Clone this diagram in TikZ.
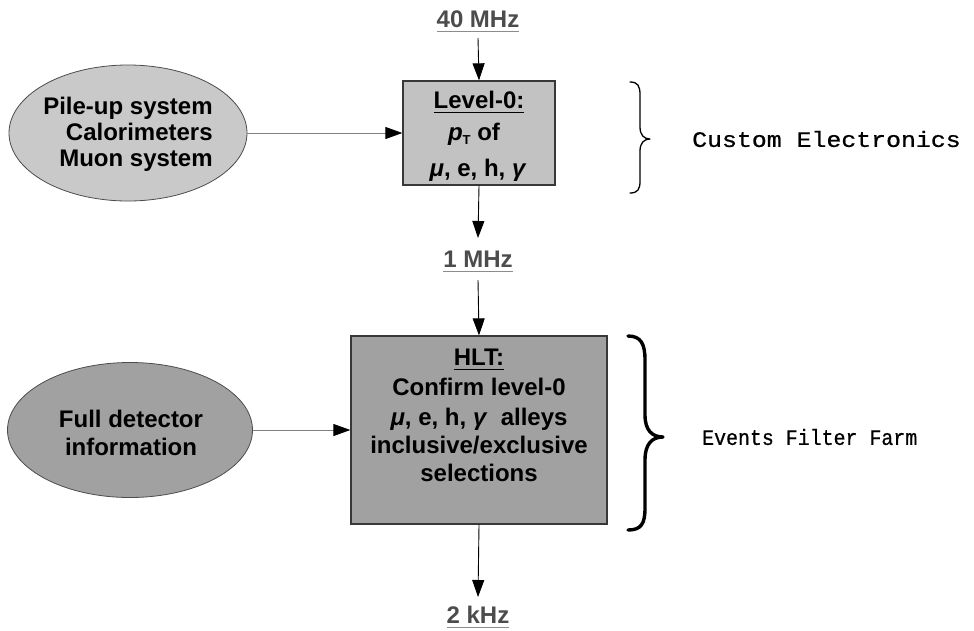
\documentclass[tikz,border=0pt]{standalone}
\usepackage{fontspec}
\setmainfont{Liberation Sans}
\newfontfamily\monof[FakeBold=0.7]{Liberation Mono}
\usetikzlibrary{arrows.meta,shapes.geometric}
\newcommand\myul[2][black]{\setbox0\hbox{#2}\leavevmode\rlap{\raisebox{-5pt}{\color{#1}\rule{\wd0}{1.3pt}}}\box0}
\begin{document}
\begin{tikzpicture}[x=1pt,y=-1pt,
  every node/.style={font=\bfseries\fontsize{24}{29}\selectfont},
  arr/.style={line width=0.9pt,-{Triangle[length=17pt,width=12pt]}},
  sidearr/.style={draw=black!50,line width=0.8pt,-{Triangle[length=17pt,width=12pt,color=black]}},
  freq/.style={inner sep=0pt,anchor=base,text=black!70},
  txt/.style={inner sep=0pt,anchor=base},
  boxstyle/.style={draw=black!78,line width=1.3pt,inner sep=0pt},
  ell/.style={ellipse,draw=black!70,line width=0.8pt,inner sep=0pt},
  mono/.style={inner sep=0pt,anchor=west,font=\monof\fontsize{22}{26}\selectfont},
  bracestyle/.style={draw=black,line cap=round,line join=round}
]
\useasboundingbox (0,0) rectangle (974,630);

% frequency labels
\node[freq] (f40) at (478,27) {\myul[black!45]{40 MHz}};
\node[freq] (f1) at (478,267) {\myul[black!45]{1 MHz}};
\node[freq] (f2) at (478,623) {\myul[black!45]{2 kHz}};

% Level-0 box
\node[boxstyle,fill=black!24,minimum width=152pt,minimum height=104pt] (l0) at (479,133) {};
\node[txt] (l0a) at (479,108) {\myul{Level-0:}};
\node[txt] (l0b) at (474,140) {\textit{p}\raisebox{-4pt}{\fontsize{13}{13}\selectfont T} of};
\node[txt] (l0c) at (478,176) {\textit{μ}, e, h, \textit{γ}};

% HLT box
\node[boxstyle,fill=black!37,minimum width=256pt,minimum height=188pt] (hlt) at (479,430) {};
\node[txt] (h1) at (479,365) {\myul{HLT:}};
\node[txt] (h2) at (479,395) {Confirm level-0};
\node[txt] (h3) at (479,425) {\textit{μ}, e, h, \textit{γ}\ \ alleys};
\node[txt] (h4) at (479,453) {inclusive/exclusive};
\node[txt] (h5) at (479,481) {selections};

% ellipses
\node[ell,fill=black!21,minimum width=238pt,minimum height=136pt] (e1) at (128,133) {};
\node[align=right,inner sep=0pt,font=\bfseries\fontsize{24}{26}\selectfont] (e1t) at (128,134) {Pile-up system\\Calorimeters\\Muon system};
\node[ell,fill=black!37,minimum width=245pt,minimum height=135pt] (e2) at (130,430) {};
\node[align=center,inner sep=0pt,font=\bfseries\fontsize{24}{28}\selectfont] (e2t) at (131,433) {Full detector\\information};

% connectors
\draw[arr] ([yshift=-11pt]f40.base) -- (l0.north);
\draw[arr] (l0.south) -- ([yshift=29pt]f1.base);
\draw[arr] ([yshift=-13pt]f1.base) -- (hlt.north);
\draw[arr] (hlt.south) -- ([yshift=26pt]f2.base);
\draw[sidearr] (e1.east) -- (l0.west);
\draw[sidearr] (e2.east) -- (hlt.west);

% braces
\draw[bracestyle,line width=1.3pt] (630,82) .. controls (638,82) and (640,86) .. (640,95) -- (640,127)
  .. controls (640,135) and (644,139) .. (650,139)
  .. controls (644,139) and (640,143) .. (640,151) -- (640,181)
  .. controls (640,189) and (638,193) .. (630,193);
\draw[bracestyle,line width=3.4pt] (628,336) .. controls (641,336) and (645,344) .. (645,360) -- (645,415)
  .. controls (645,430) and (652,437) .. (663,437)
  .. controls (652,437) and (645,444) .. (645,460) -- (645,508)
  .. controls (645,524) and (641,530) .. (628,530);

% side labels
\node[mono] (ce) at (692,139) {\scalebox{1.13}[1]{Custom Electronics}};
\node[mono] (ef) at (702,437) {\scalebox{0.905}[1]{Events Filter Farm}};
\end{tikzpicture}
\end{document}
